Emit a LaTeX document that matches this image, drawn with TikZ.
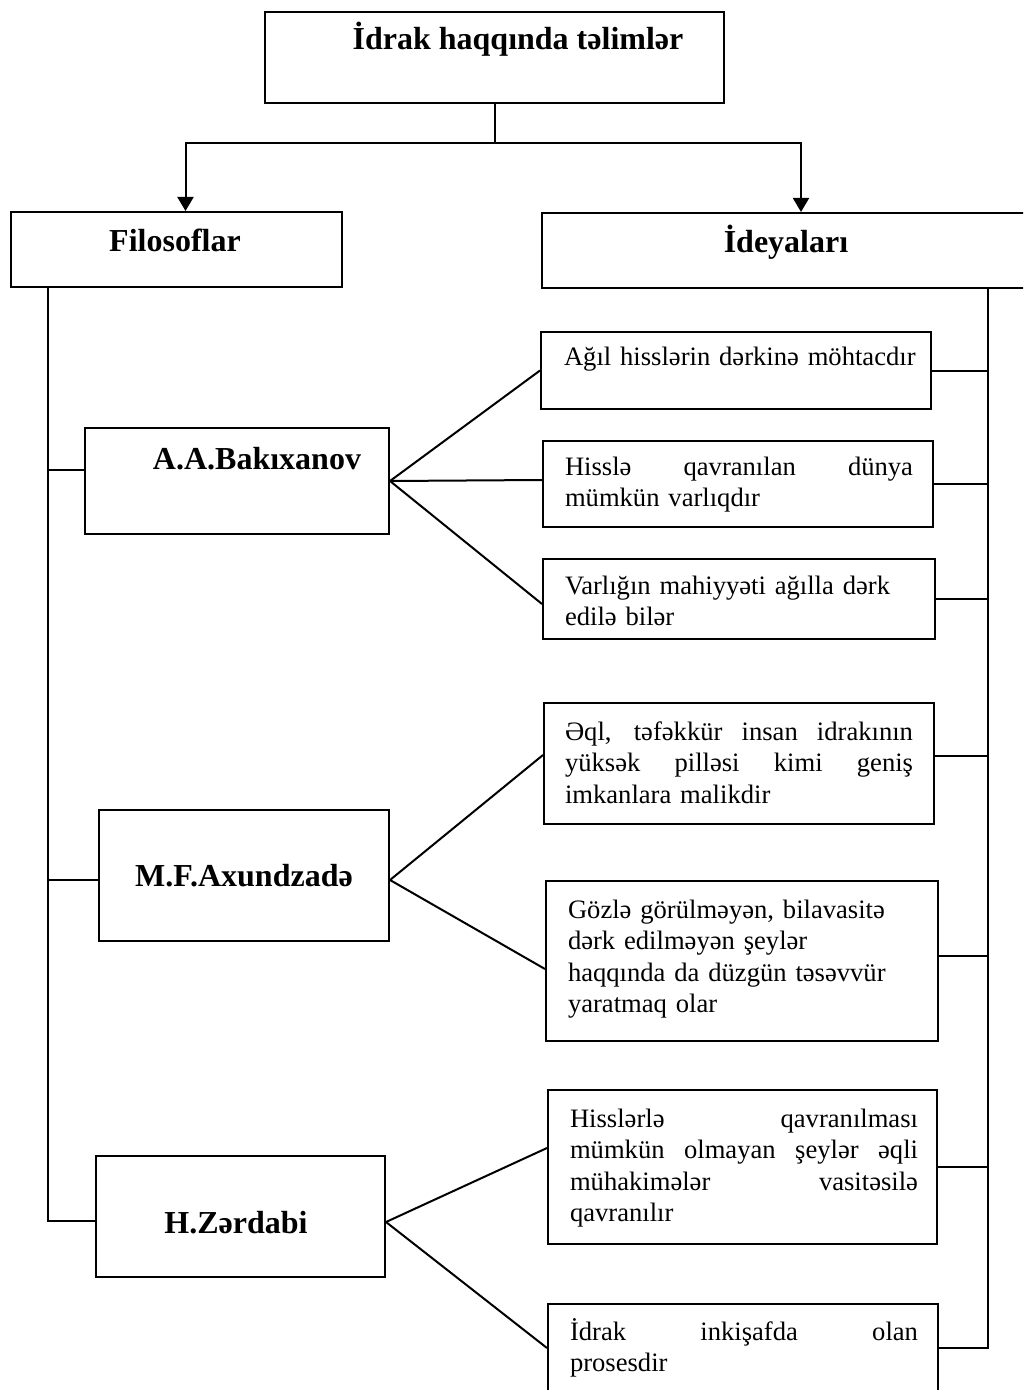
\documentclass[tikz,border=0pt]{standalone}
\usepackage{fontspec}
\setmainfont{Liberation Serif}
\usetikzlibrary{fit,arrows.meta,calc}
\newcommand{\jl}[1]{\leavevmode\hbox to 174pt{\spaceskip=0.25em plus 1fil minus 0.05em\relax #1}}
\begin{document}
\begin{tikzpicture}[x=0.5pt,y=-0.5pt,
  line width=1pt,
  box/.style={draw, line width=1pt, inner sep=0pt, rectangle},
  head/.style={font=\fontsize{16}{19}\selectfont\bfseries, inner sep=0pt, anchor=base},
  idea/.style={font=\fontsize{13.3}{15.75}\selectfont, inner sep=0pt, text width=180pt, align=left, anchor=base west},
  arr/.style={-{Triangle[width=8pt,length=7pt]}}]
\useasboundingbox (0,0) rectangle (1023,1390);
\clip (0,0) rectangle (1023,1390);

% top
\node[box, fit={(265,12) (724,103)}] (T) {};
\node[head] (Tt) at (518,50) {İdrak haqqında təlimlər};
\node[box, fit={(11,212) (342,287)}] (F) {};
\node[head] (Ft) at (175,252) {Filosoflar};
\node[box, fit={(542,213) (1060,288)}] (I) {};
\node[head] (It) at (786,253) {İdeyaları};

\coordinate (yline) at (0,143);
\draw (T.south) -- (T.south |- yline);
\draw[arr] (T.south |- yline) -| ([xshift=4.5pt]F.north);
\draw[arr] (T.south |- yline) -| (I.north);

% philosophers
\node[box, fit={(85,428) (389,534)}] (B) {};
\node[head] (Bt) at (257,469) {A.A.Bakıxanov};
\node[box, fit={(99,810) (389,941)}] (X) {};
\node[head] (Xt) at (244,886) {M.F.Axundzadə};
\node[box, fit={(96,1156) (385,1277)}] (Z) {};
\node[head] (Zt) at (236,1233) {H.Zərdabi};

% ideas
\node[box, fit={(541,332) (931,409)}] (A1) {};
\node[idea] (A1t) at (563,365) {Ağıl hisslərin dərkinə möhtacdır};
\node[box, fit={(543,441) (933,527)}] (A2) {};
\node[idea] (A2t) at (564,475) {\jl{Hisslə qavranılan dünya}\\mümkün varlıqdır};
\node[box, fit={(543,559) (935,639)}] (A3) {};
\node[idea] (A3t) at (564,594) {Varlığın mahiyyəti ağılla dərk\\edilə bilər};
\node[box, fit={(544,703) (934,824)}] (A4) {};
\node[idea] (A4t) at (564,740) {\jl{Əql, təfəkkür insan idrakının}\\\jl{yüksək pilləsi kimi geniş}\\imkanlara malikdir};
\node[box, fit={(546,881) (938,1041)}] (A5) {};
\node[idea] (A5t) at (567,918) {Gözlə görülməyən, bilavasitə\\dərk edilməyən şeylər\\haqqında da düzgün təsəvvür\\yaratmaq olar};
\node[box, fit={(548,1090) (937,1244)}] (A6) {};
\node[idea] (A6t) at (569,1127) {\jl{Hisslərlə qavranılması}\\\jl{mümkün olmayan şeylər əqli}\\\jl{mühakimələr vasitəsilə}\\qavranılır};
\node[box, fit={(548,1304) (938,1392)}] (A7) {};
\node[idea] (A7t) at (569,1340) {\jl{İdrak inkişafda olan}\\prosesdir};

% left spine
\coordinate (S) at ([xshift=19pt]F.south west);
\draw (S) |- ([yshift=-2.25pt]Z.west);
\draw (S) |- ([yshift=5.5pt]B.west);
\draw (S) |- ([yshift=-2.25pt]X.west);

% right spine
\coordinate (R) at ([xshift=223.5pt]I.south west);
\draw (R) |- (A7.east);
\draw (R) |- (A1.east);
\draw (R) |- (A2.east);
\draw (R) |- (A3.east);
\draw (R) |- ([yshift=3.75pt]A4.east);
\draw (R) |- ([yshift=2.5pt]A5.east);
\draw (R) |- (A6.east);

% fans
\draw (B.east) -- (A1.west);
\draw (B.east) -- ([yshift=2pt]A2.west);
\draw (B.east) -- ([yshift=-2.5pt]A3.west);
\draw ([yshift=-2.25pt]X.east) -- ([yshift=4.25pt]A4.west);
\draw ([yshift=-2.25pt]X.east) -- ([yshift=-4pt]A5.west);
\draw ([yshift=-2.75pt]Z.east) -- ([yshift=9.5pt]A6.west);
\draw ([yshift=-2.75pt]Z.east) -- (A7.west);
\end{tikzpicture}
\end{document}
